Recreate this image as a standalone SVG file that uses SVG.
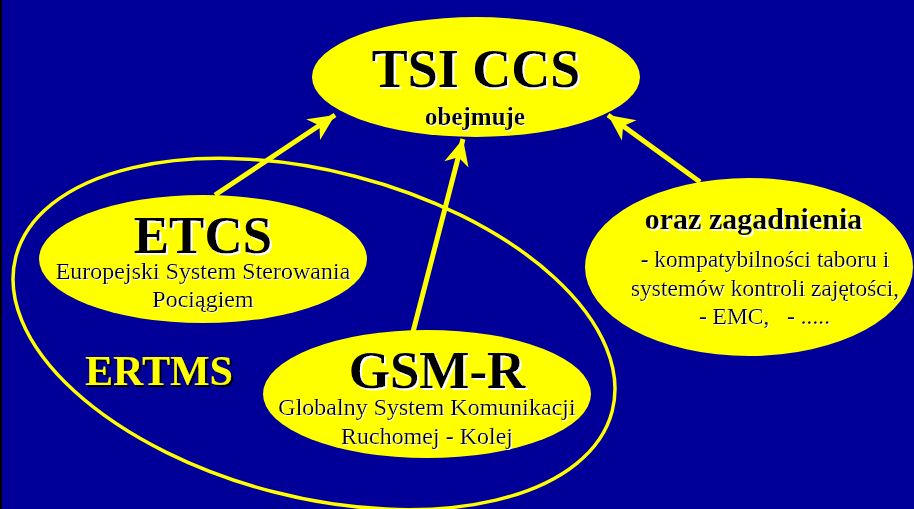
<svg xmlns="http://www.w3.org/2000/svg" width="914" height="509" viewBox="0 0 914 509">
<style>
.bg{fill:#000099}
.node{fill:#ffff00}
.ring{fill:none;stroke:#ffff00;stroke-width:3.5}
.conn{stroke:#ffff00;stroke-width:5;fill:none}
text{font-family:"Liberation Serif","Times New Roman",serif;text-anchor:middle}
.b{font-weight:bold}
.t{fill:#000000}
.ws{filter:url(#wsh)}
.ws2{filter:url(#wsh2)}
.ys{fill:#ffff00;filter:url(#dsh)}
.pre{white-space:pre}
</style>
<defs>
<marker id="ah" markerUnits="userSpaceOnUse" markerWidth="30" markerHeight="30" viewBox="-22 -12 24 24" refX="0" refY="0" orient="auto">
<path d="M0,0 L-21,-10 L-15,0 L-21,10 Z" fill="#ffff00"/>
</marker>
<filter id="wsh" x="-10%" y="-30%" width="120%" height="160%">
<feOffset in="SourceAlpha" dx="2" dy="2" result="o"/>
<feFlood flood-color="#ffffff"/>
<feComposite in2="o" operator="in" result="s"/>
<feMerge><feMergeNode in="s"/><feMergeNode in="SourceGraphic"/></feMerge>
</filter>
<filter id="wsh2" x="-10%" y="-30%" width="120%" height="160%">
<feOffset in="SourceAlpha" dx="1" dy="1" result="o"/>
<feFlood flood-color="#ffffff"/>
<feComposite in2="o" operator="in" result="s"/>
<feMerge><feMergeNode in="s"/><feMergeNode in="SourceGraphic"/></feMerge>
</filter>
<filter id="dsh" x="-10%" y="-30%" width="120%" height="160%">
<feOffset in="SourceAlpha" dx="2" dy="2" result="o"/>
<feFlood flood-color="#000000"/>
<feComposite in2="o" operator="in" result="s"/>
<feMerge><feMergeNode in="s"/><feMergeNode in="SourceGraphic"/></feMerge>
</filter>
</defs>
<rect class="bg" x="0" y="0" width="914" height="509"/>
<rect x="0" y="0" width="2" height="509" fill="#000000"/>

<g id="ertms">
<ellipse class="ring" cx="314" cy="334" rx="308" ry="163" transform="rotate(14.5 314 334)"/>
<text class="b ys" x="159" y="385" font-size="42">ERTMS</text>
</g>

<g id="connectors">
<line class="conn" x1="215" y1="195" x2="335" y2="115" marker-end="url(#ah)"/>
<line class="conn" x1="413" y1="332" x2="463" y2="139" marker-end="url(#ah)"/>
<line class="conn" x1="700" y1="182" x2="608" y2="115" marker-end="url(#ah)"/>
</g>

<g id="tsi">
<ellipse class="node" cx="476" cy="77" rx="164" ry="60"/>
<text class="b t ws" x="476" y="87" font-size="54">TSI CCS</text>
<text class="b t ws2" x="475" y="125" font-size="25">obejmuje</text>
</g>

<g id="etcs">
<ellipse class="node" cx="203" cy="259" rx="164" ry="64"/>
<text class="b t ws" x="203" y="253" font-size="53">ETCS</text>
<text class="t ws2" x="203" y="279" font-size="24">Europejski System Sterowania</text>
<text class="t ws2" x="203" y="307" font-size="24">Pociągiem</text>
</g>

<g id="gsmr">
<ellipse class="node" cx="427" cy="394" rx="164" ry="64"/>
<text class="b t ws" x="437" y="388" font-size="53">GSM-R</text>
<text class="t ws2" x="427" y="415" font-size="24">Globalny System Komunikacji</text>
<text class="t ws2" x="427" y="444" font-size="24">Ruchomej - Kolej</text>
</g>

<g id="oraz">
<ellipse class="node" cx="749" cy="267" rx="164" ry="89"/>
<text class="b t ws" x="753.5" y="229" font-size="30">oraz zagadnienia</text>
<text class="t ws2" x="765" y="267" font-size="23.5">- kompatybilności taboru i</text>
<text class="t ws2" x="765" y="296" font-size="23.5">systemów kontroli zajętości,</text>
<text class="t ws2 pre" x="764.5" y="324" font-size="23.5">- EMC,   - .....</text>
</g>
</svg>
